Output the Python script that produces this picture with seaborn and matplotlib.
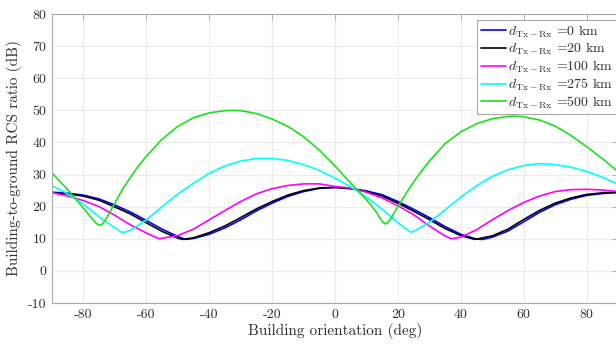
import numpy as np
import pandas as pd
import matplotlib
matplotlib.use('Agg')
import matplotlib.pyplot as plt
import seaborn as sns

# values (deg, dB)
ang_0km = [-90, -85, -80, -75, -70, -65, -60, -55, -50, -47.5, -45, -40, -35, -30, -25, -20, -15, -10, -5, 0,
           5, 10, 15, 20, 25, 30, 35, 40, 45, 47, 50, 55, 60, 65, 70, 75, 80, 85, 90]
rcs_0km = [24.5, 24.2, 23.6, 22.4, 20.5, 18.3, 15.7, 13.0, 10.7, 9.8, 10.1, 11.4, 13.4, 15.9, 18.7, 21.1, 23.2, 24.7, 25.7, 26.0,
           25.7, 24.9, 23.7, 21.6, 19.2, 16.6, 13.8, 11.4, 9.9, 9.8, 10.5, 12.4, 15.3, 18.2, 20.6, 22.3, 23.5, 24.1, 24.4]

ang_20km = [-90, -85, -80, -75, -70, -65, -60, -55, -50, -48.5, -45, -40, -35, -30, -25, -20, -15, -10, -5, 0,
            5, 10, 15, 20, 25, 30, 35, 40, 44.5, 50, 55, 60, 65, 70, 75, 80, 85, 90]
rcs_20km = [24.3, 24.0, 23.3, 22.0, 19.9, 17.7, 15.0, 12.3, 10.2, 9.8, 10.3, 11.9, 14.0, 16.6, 19.3, 21.6, 23.6, 25.0, 25.8, 26.0,
            25.6, 24.7, 23.3, 21.1, 18.6, 16.0, 13.2, 11.0, 9.8, 10.9, 13.0, 16.0, 18.8, 21.1, 22.7, 23.8, 24.3, 24.5]

ang_100km = [-90, -85, -80, -75, -70, -65, -60, -56, -50, -45, -40, -35, -30, -25, -20, -15, -10, -5, 0,
             5, 10, 15, 20, 25, 30, 35, 37, 40, 45, 50, 55, 60, 65, 70, 75, 80, 85, 90]
rcs_100km = [24.4, 23.3, 21.9, 20.0, 17.3, 14.3, 11.8, 10.0, 11.0, 13.0, 15.9, 18.8, 21.6, 24.0, 25.6, 26.6, 27.1, 27.1, 26.3,
             25.8, 24.5, 22.7, 20.3, 17.5, 14.0, 10.9, 10.0, 10.5, 12.8, 15.9, 18.8, 21.3, 23.3, 24.7, 25.3, 25.4, 25.2, 24.7]

ang_275km = [-90, -85, -80, -75, -70, -68, -67, -65, -60, -55, -50, -45, -40, -35, -30, -25, -20, -15, -10, -5, 0,
             5, 10, 15, 20, 24, 25, 30, 35, 40, 45, 50, 55, 60, 65, 70, 75, 80, 85, 90]
rcs_275km = [26.5, 24.0, 20.8, 16.8, 13.4, 12.1, 12.0, 12.7, 15.9, 20.0, 23.9, 27.3, 30.4, 32.7, 34.2, 35.0, 35.0, 34.4, 33.1, 31.3, 28.9,
             26.2, 23.0, 19.2, 15.0, 12.1, 12.3, 15.1, 19.0, 23.0, 26.5, 29.4, 31.5, 32.8, 33.4, 33.1, 32.3, 31.0, 29.2, 27.0]

ang_500km = [-90, -85, -80, -77, -76, -75, -74, -73, -72, -70, -67.5, -65, -62.5, -60, -55, -50, -45, -40, -35, -32, -30,
             -25, -20, -15, -10, -5, 0, 5, 10, 13, 15, 16, 17, 18, 20, 22.5, 25, 27.5, 30, 35, 40, 45, 50, 55, 57, 60,
             65, 70, 75, 80, 85, 90]
rcs_500km = [30.5, 25.3, 19.5, 16.0, 14.9, 14.2, 14.6, 15.9, 17.5, 21.2, 25.5, 29.2, 32.7, 35.7, 41.0, 45.0, 47.7, 49.2, 49.9, 50.0, 49.9,
             49.0, 47.3, 45.0, 41.8, 37.6, 32.7, 27.3, 22.2, 18.5, 15.4, 14.6, 15.2, 16.8, 20.0, 24.0, 27.7, 31.1, 34.2, 39.6, 43.3, 45.8, 47.4, 48.1, 48.2, 48.0,
             47.0, 45.1, 42.2, 38.7, 35.0, 30.9]

labels = [r'$d_{\mathrm{Tx-Rx}}$ =0 km', r'$d_{\mathrm{Tx-Rx}}$ =20 km', r'$d_{\mathrm{Tx-Rx}}$ =100 km',
          r'$d_{\mathrm{Tx-Rx}}$ =275 km', r'$d_{\mathrm{Tx-Rx}}$ =500 km']
colors = ['#0000ff', '#000000', '#ff00ff', '#00ffff', '#1ee01e']

series = [(ang_0km, rcs_0km), (ang_20km, rcs_20km), (ang_100km, rcs_100km),
          (ang_275km, rcs_275km), (ang_500km, rcs_500km)]

frames = []
for lab, (a, r) in zip(labels, series):
    frames.append(pd.DataFrame({'angle': a, 'rcs': r, 'dist': lab}))
df = pd.concat(frames, ignore_index=True)

sns.set_style('whitegrid')
plt.rcParams['font.family'] = ['cmr10', 'DejaVu Serif']
plt.rcParams['mathtext.fontset'] = 'cm'
plt.rcParams['axes.unicode_minus'] = False
plt.rcParams['axes.formatter.use_mathtext'] = False

txt = '#303030'

fig = plt.figure(figsize=(6.16, 3.45), dpi=100)
ax = fig.add_axes([52 / 616, 42 / 345, 566 / 616, 289 / 345])

sns.lineplot(data=df, x='angle', y='rcs', hue='dist', palette=colors,
             estimator=None, sort=False, linewidth=1.2, ax=ax)

ax.set_xlim(-90, 90)
ax.set_ylim(-10, 80)
ax.set_xticks(np.arange(-80, 81, 20))
ax.set_yticks(np.arange(-10, 81, 10))
ax.set_xlabel('Building orientation (deg)', fontsize=11, color=txt, labelpad=2)
ax.set_ylabel('Building-to-ground RCS ratio (dB)', fontsize=11, color=txt, labelpad=4)

ax.grid(True, color='#ebebeb', linewidth=0.8)
for s in ax.spines.values():
    s.set_color('#a8a8a8')
    s.set_linewidth(0.8)
ax.tick_params(direction='in', length=4, width=0.6, color='#a8a8a8', labelsize=10,
               labelcolor=txt, top=True, right=True, pad=4)

leg = ax.legend(loc='upper right', bbox_to_anchor=(0.998, 0.98), borderaxespad=0,
                fontsize=10, frameon=True, fancybox=False, framealpha=1,
                edgecolor='#a8a8a8', handlelength=1.8, handletextpad=0.2,
                labelspacing=0.1, borderpad=0.25)
leg.get_frame().set_linewidth(0.8)
for t in leg.get_texts():
    t.set_color(txt)

fig.savefig('out.png', dpi=100)
